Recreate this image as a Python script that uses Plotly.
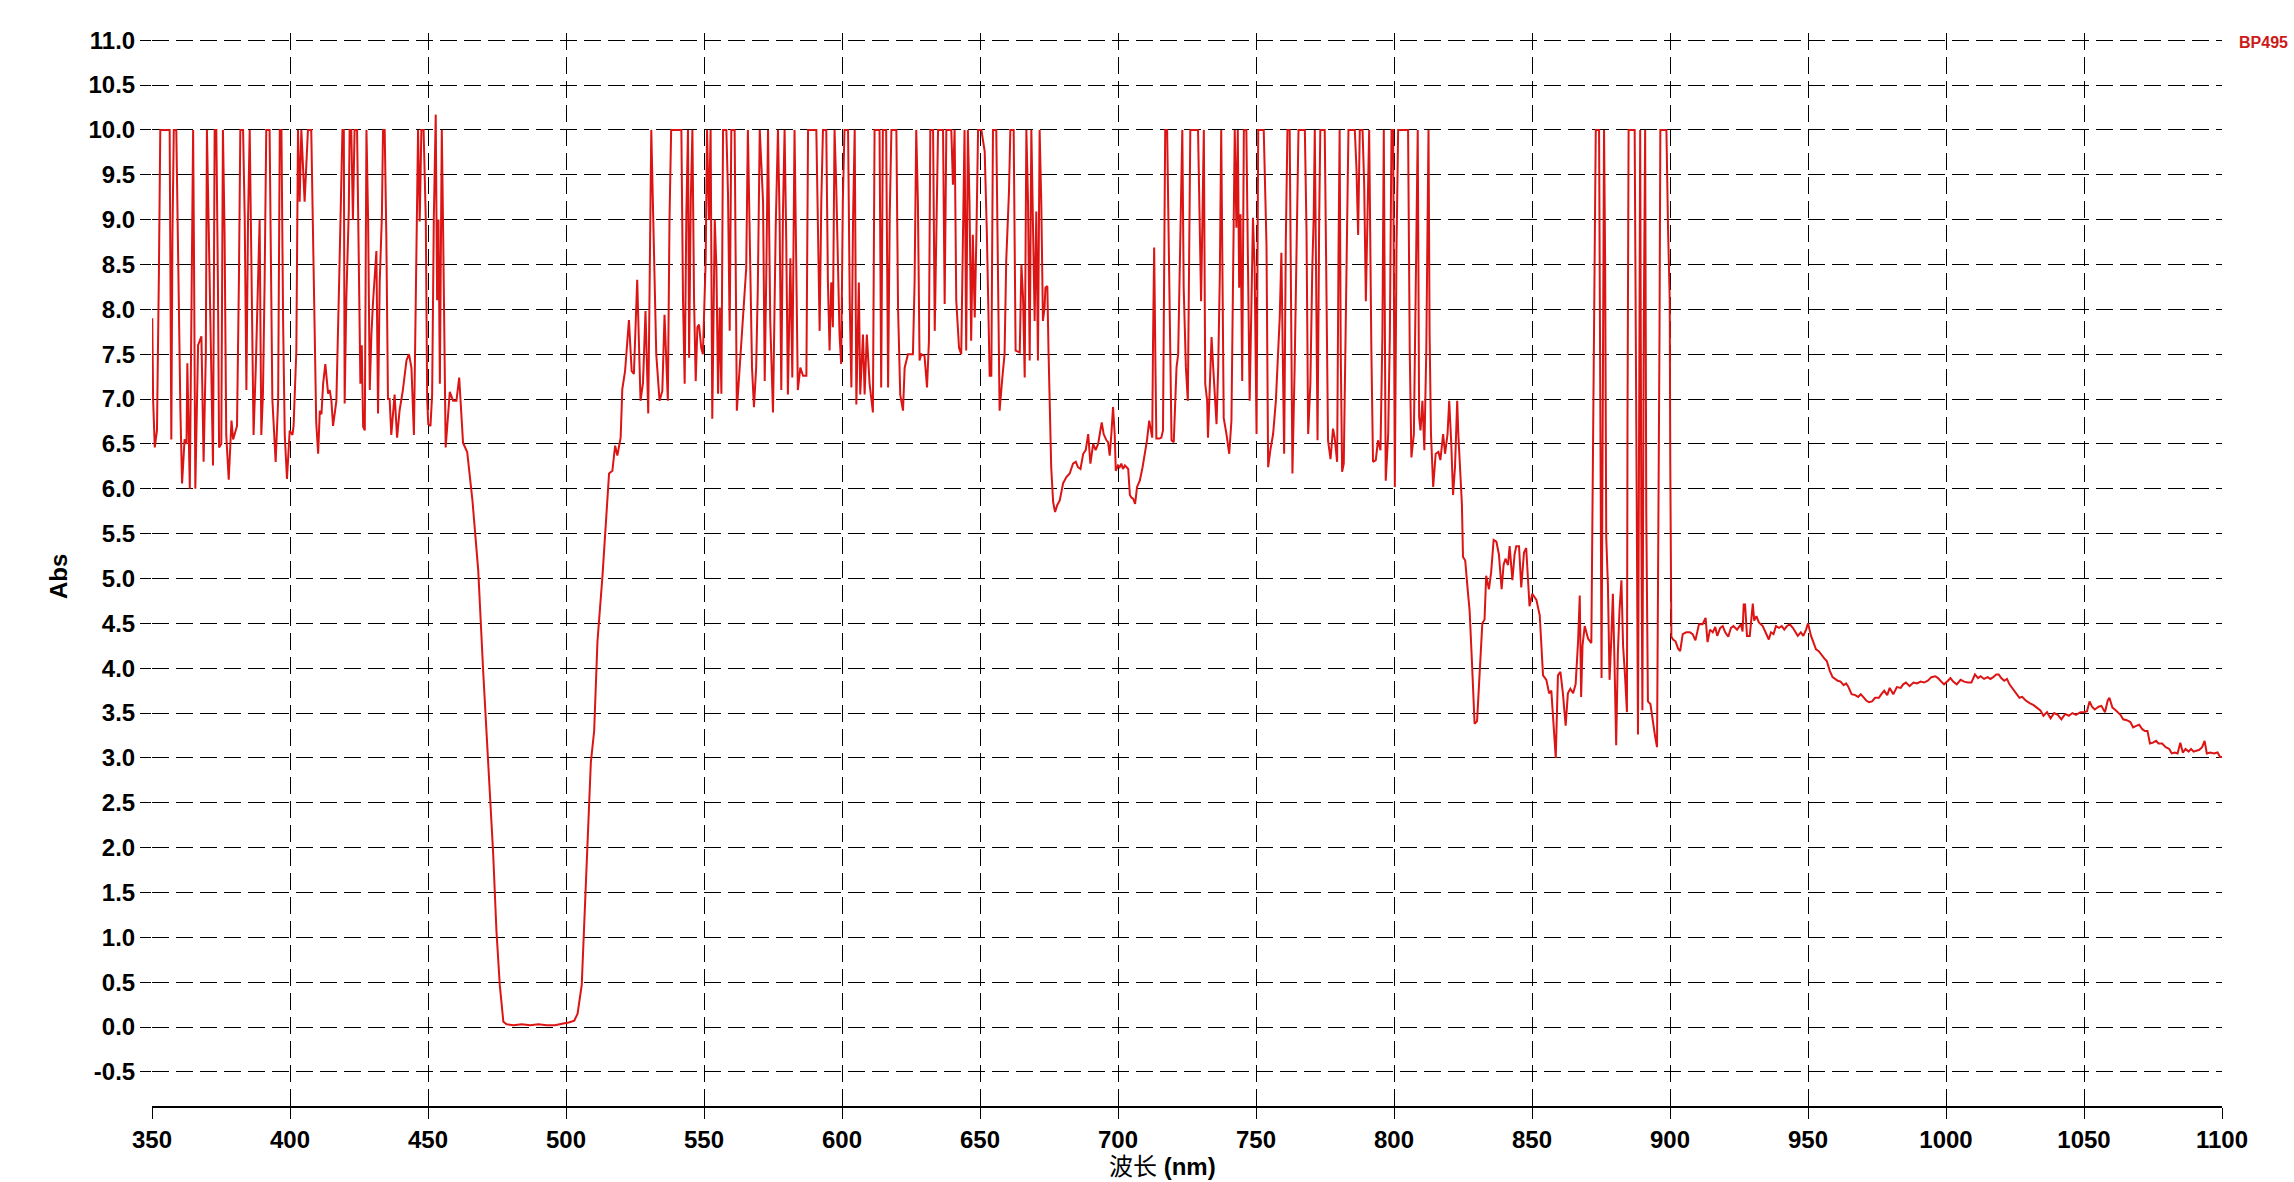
import plotly.graph_objects as go

# ---- data (wavelength nm, absorbance) ----
wl_a = [350.1, 350.4, 351.0, 351.8, 352.5, 353.0, 356.4, 356.8, 357.0, 357.4,
        357.9, 358.8, 359.8, 360.3, 360.9, 361.8, 362.5, 362.8, 363.7, 364.3,
        364.9, 365.2, 365.7, 366.7, 367.9, 368.7, 369.5, 369.9, 370.7, 371.5,
        372.1, 372.7, 373.3, 373.9, 374.3, 375.1, 375.7, 376.3, 376.9, 377.8,
        378.8, 379.4, 380.8, 381.5, 382.0, 383.0, 383.6, 384.2, 384.8, 385.4,
        386.0, 386.8, 387.6, 388.4, 389.0, 389.6, 390.2, 390.8, 391.4, 392.6,
        393.6, 394.8, 395.7, 396.3, 396.9, 397.5, 398.1, 398.9, 399.9, 400.9,
        401.3, 402.3, 402.9, 403.5, 404.1, 405.3, 406.5, 407.7, 408.3, 408.9,
        409.5, 410.2, 410.8, 411.4, 412.0, 412.8, 413.8, 414.4, 415.0, 415.6,
        416.2, 416.8, 417.8, 418.3, 419.0, 419.5, 419.8, 420.4, 421.3, 421.6,
        422.2, 422.8, 423.4, 424.3, 424.9, 425.5, 426.0, 426.5, 427.1, 427.7,
        428.3, 428.9, 429.5, 430.1, 431.3, 431.9, 432.5, 433.3, 433.7, 434.3,
        434.9, 435.5, 436.1, 436.7, 437.9, 438.8, 439.7, 440.9, 442.2, 443.1,
        444.0, 444.9, 445.4, 445.8, 446.4, 447.0, 447.6, 448.4, 449.2, 449.7,
        450.1, 450.9, 451.5, 452.1, 452.8, 453.3, 453.8, 454.3, 455.0, 455.5,
        456.0, 456.4]
abs_a = [7.9, 7.0, 6.46, 6.65, 8.4, 10, 10, 8.3, 6.55, 8.8,
         10, 10, 7.8, 6.85, 6.06, 6.55, 6.5, 7.4, 6.0, 7.94,
         10, 8.67, 6.0, 7.6, 7.7, 6.3, 7.5, 10, 8.75, 7.5,
         6.26, 10, 10, 8.24, 6.46, 6.5, 10, 8.83, 6.6, 6.1,
         6.76, 6.55, 6.7, 8.35, 10, 10, 9.0, 7.1, 9.0, 10,
         8.3, 6.6, 7.35, 8.24, 9.0, 6.6, 7.06, 8.3, 10, 10,
         7.0, 6.3, 6.98, 10, 10, 7.87, 6.6, 6.11, 6.65, 6.6,
         6.7, 7.54, 10, 9.2, 10, 9.2, 10, 10, 8.95, 7.9,
         6.74, 6.39, 6.87, 6.83, 7.17, 7.39, 7.06, 7.1, 6.98, 6.7,
         6.83, 6.98, 8.3, 9.1, 10, 10, 6.95, 8.1, 9.1, 10,
         10, 9.0, 10, 10, 8.46, 7.17, 7.6, 6.69, 6.65, 10,
         9.0, 7.1, 7.72, 8.09, 8.65, 6.84, 8.3, 9.05, 10, 10,
         8.83, 7.0, 7.0, 6.6, 7.05, 6.57, 6.87, 7.1, 7.43, 7.5,
         7.35, 6.6, 7.72, 8.87, 10, 8.98, 10, 10, 9.0, 7.0,
         6.72, 6.7, 7.05, 9.0, 10.17, 8.1, 9.0, 7.17, 10, 8.83,
         7.35, 6.46]

wl_b = [457.9, 459.1, 460.3, 461.3, 462.7, 464.2, 466.1, 468.2, 470.0, 471.8,
        473.6, 474.8, 476.0, 477.3, 478.5, 481.0, 484.0, 487.0, 490.0, 493.0,
        496.0, 499.0, 501.0, 503.0, 504.2, 505.7, 507.2, 509.0, 510.2, 511.4,
        513.2, 514.4, 515.6, 516.8, 517.8, 518.6, 519.8, 520.4, 521.4, 522.8,
        523.8, 524.6, 525.8, 527.0, 527.9, 528.8, 529.8]
abs_b = [7.08, 6.98, 6.98, 7.24, 6.51, 6.41, 5.87, 5.09, 3.96, 2.95,
         1.94, 1.07, 0.47, 0.06, 0.03, 0.02, 0.03, 0.02, 0.03, 0.02,
         0.02, 0.04, 0.05, 0.07, 0.15, 0.47, 1.6, 2.95, 3.3, 4.3,
         5.02, 5.63, 6.17, 6.2, 6.48, 6.37, 6.57, 7.11, 7.31, 7.88,
         7.31, 7.28, 8.33, 6.98, 7.18, 7.98, 6.84]

wl_c = [530.9, 531.5, 532.0, 532.7, 533.9, 534.9, 535.7, 536.3, 536.9, 537.5,
        538.1, 541.8, 542.4, 543.0, 543.6, 544.2, 544.6, 545.2, 545.8, 546.4,
        547.0, 547.6, 548.2, 549.0, 549.6, 550.6, 551.1, 551.8, 552.4, 553.0,
        553.9, 554.5, 555.1, 555.7, 556.3, 556.9, 558.1, 558.7, 559.3, 559.9,
        561.1, 561.9, 562.9, 564.1, 565.3, 565.9, 566.5, 567.4, 568.1, 568.9,
        569.5, 570.2, 571.4, 572.0, 572.6, 573.2, 574.0, 575.0, 576.0, 576.8,
        577.4, 578.0, 578.6, 579.2, 579.8, 580.4, 581.3, 582.0, 582.8, 583.4,
        584.0, 584.9, 585.9, 587.1, 587.7, 590.7, 591.3, 591.9, 592.5, 593.1,
        594.3, 594.9, 595.5, 596.1, 596.7, 597.3, 597.9, 598.5, 599.1, 599.7,
        600.3, 600.9, 602.2, 602.8, 603.4, 604.0, 604.6, 605.2, 606.1, 606.6,
        607.6, 608.2, 609.0, 610.0, 611.2, 611.8, 613.6, 614.2, 614.8, 616.0,
        616.7, 617.3, 617.9, 619.7, 620.3, 621.1, 622.1, 622.7, 623.9, 625.1,
        625.7, 626.3, 626.9, 627.5, 628.1, 628.7, 629.9, 630.8, 631.5, 632.0,
        633.0, 633.6, 634.2, 634.8, 636.6, 637.2, 637.8, 639.6, 640.2, 640.8,
        641.4, 642.4, 643.2, 643.8, 644.4, 645.0, 645.6, 646.2, 646.8, 647.4,
        648.1, 648.7, 649.3, 650.5, 651.7, 652.5, 652.9, 653.5, 654.1, 654.7,
        655.9, 656.6, 657.1, 658.1, 658.9, 659.5, 660.5, 661.0, 662.2, 662.9,
        664.4, 665.0, 665.6, 666.2, 666.8, 667.4, 668.0, 668.6, 669.2, 669.8,
        670.4, 671.0, 671.6, 672.2, 672.8, 673.4, 673.7, 674.4, 674.8, 675.2,
        675.8, 676.5, 677.2, 678.0]
abs_c = [10, 9.2, 8.43, 7.5, 6.98, 7.09, 7.94, 7.5, 6.98, 9.0,
         10, 10, 8.1, 7.17, 9.06, 10, 7.46, 9.2, 10, 8.1,
         7.2, 7.8, 7.83, 7.57, 7.5, 8.54, 10, 9.0, 10, 6.78,
         9.0, 8.46, 7.06, 8.02, 7.06, 10, 10, 9.28, 7.76, 10,
         10, 6.87, 7.35, 7.9, 8.46, 10, 9.0, 7.35, 6.91, 7.35,
         8.24, 10, 9.2, 7.2, 8.46, 10, 7.87, 6.85, 8.94, 10,
         9.0, 7.1, 9.06, 10, 8.76, 7.05, 8.57, 7.24, 10, 8.61,
         7.1, 7.35, 7.26, 7.26, 10, 10, 8.9, 7.76, 9.2, 10,
         10, 8.3, 7.54, 8.3, 7.8, 10, 9.39, 8.46, 7.72, 7.39,
         9.2, 10, 10, 8.09, 7.13, 9.0, 10, 6.94, 8.3, 7.05,
         7.72, 7.05, 7.72, 7.17, 6.85, 10, 10, 7.13, 10, 10,
         7.13, 9.06, 10, 10, 8.02, 7.05, 6.87, 7.35, 7.5, 7.5,
         7.5, 8.3, 10, 9.2, 7.43, 7.5, 7.48, 7.13, 7.65, 10,
         10, 7.76, 9.2, 10, 10, 8.06, 10, 10, 9.39, 10,
         8.1, 7.57, 7.5, 8.83, 10, 7.54, 10, 9.2, 7.65, 8.83,
         7.91, 8.83, 10, 10, 9.76, 8.83, 8.09, 7.26, 7.26, 10,
         10, 8.46, 6.87, 7.24, 7.5, 8.54, 9.31, 10, 10, 7.54,
         7.52, 8.5, 8.13, 7.24, 10, 9.2, 7.43, 10, 9.13, 7.87,
         9.09, 7.43, 10, 9.2, 7.87, 8.02, 8.24, 8.26, 7.57, 6.91,
         6.24, 5.85, 5.74, 5.82]

wl_d = [678.9, 680.1, 681.3, 682.5, 683.7, 684.7, 685.5, 686.4, 687.4, 688.3,
        689.2, 690.0, 691.0, 691.9, 692.8, 693.4, 694.1, 694.8, 695.8, 696.4,
        697.0, 697.6, 698.2, 698.8, 699.2, 700.0, 700.6, 701.2, 701.8, 702.5,
        703.1, 703.7, 704.3, 704.9, 705.5, 706.2, 706.9, 707.9, 708.9, 709.7,
        710.5, 711.3, 711.9, 712.4, 712.7, 713.1, 713.6, 713.9, 715.1, 715.7,
        716.3, 716.7, 717.1, 717.8, 718.3, 718.8, 719.4, 720.2, 720.7, 721.2,
        721.8, 722.4, 723.0, 723.3, 723.8, 724.6, 725.3, 725.8, 726.2, 729.0,
        729.6, 730.1, 730.6, 731.1, 731.6, 732.3, 732.6, 733.2, 733.9, 734.5,
        735.1, 735.7, 736.3, 736.9, 737.4, 737.8, 738.3, 739.3, 740.3, 741.1,
        741.7, 742.3, 742.9, 743.4, 743.9, 744.4, 745.0, 745.6, 746.5, 747.1,
        747.7, 748.3, 748.9, 749.5, 750.2, 750.8, 752.8, 753.8, 754.4, 755.2,
        756.2, 757.2, 758.0, 758.6, 759.2, 759.8, 760.2, 760.8, 761.4, 762.2,
        762.8, 763.2, 764.0, 764.9, 765.4, 767.7, 768.3, 768.9, 769.7, 770.4,
        770.9, 771.3, 771.9, 772.3, 772.9, 773.3, 774.9, 775.5, 776.1, 777.0,
        777.9, 778.5, 779.4, 779.9, 780.3, 780.7, 781.2, 781.8, 782.5, 783.0,
        783.5, 785.8, 786.4, 787.0, 787.6, 788.6, 789.2, 789.8, 790.3, 791.0,
        791.8, 792.4, 793.4, 794.2, 795.1, 795.8, 796.3, 797.0, 797.9, 798.5,
        799.1, 799.7, 800.3, 800.9, 801.5, 805.1, 805.7, 806.3, 807.2, 807.9,
        808.6, 809.1, 809.6, 810.3, 811.0, 811.7, 812.5, 812.9, 813.4, 814.2,
        815.1, 816.1, 816.8, 817.8, 818.5, 819.4, 820.0, 820.7, 821.4, 822.1,
        822.9, 823.3, 823.8, 824.6]
abs_d = [5.87, 6.06, 6.13, 6.17, 6.28, 6.3, 6.24, 6.22, 6.39, 6.43,
         6.61, 6.28, 6.5, 6.43, 6.5, 6.61, 6.74, 6.61, 6.54, 6.52,
         6.37, 6.61, 6.91, 6.61, 6.2, 6.26, 6.24, 6.28, 6.22, 6.26,
         6.24, 6.22, 5.93, 5.9, 5.89, 5.83, 6.02, 6.09, 6.24, 6.39,
         6.54, 6.76, 6.65, 6.57, 7.65, 8.69, 7.28, 6.56, 6.56, 6.57,
         6.65, 8.31, 10, 10, 8.83, 7.43, 6.54, 6.52, 6.87, 7.35,
         7.5, 8.39, 9.2, 10, 8.24, 7.35, 6.98, 8.39, 10, 10,
         9.06, 8.09, 9.02, 10, 7.17, 6.98, 6.57, 7.13, 7.69, 7.35,
         6.98, 6.72, 7.35, 8.39, 10, 8.46, 6.79, 6.61, 6.39, 6.76,
         8.39, 10, 8.91, 10, 8.24, 9.06, 7.2, 10, 10, 8.09,
         6.98, 7.98, 9.02, 8.46, 6.61, 10, 10, 8.72, 6.24, 6.43,
         6.61, 6.98, 7.54, 7.91, 8.63, 7.54, 6.39, 8.76, 10, 10,
         8.09, 6.17, 7.35, 8.83, 10, 10, 8.87, 6.61, 7.17, 8.46,
         9.02, 10, 8.24, 6.54, 9.02, 10, 10, 8.28, 6.54, 6.33,
         6.67, 6.57, 6.3, 8.65, 10, 7.54, 6.19, 6.28, 7.72, 8.76,
         10, 10, 9.57, 8.83, 10, 10, 9.39, 8.09, 8.76, 10,
         7.54, 6.3, 6.32, 6.54, 6.43, 7.72, 10, 6.09, 6.61, 7.72,
         10, 10, 6.02, 8.65, 10, 10, 7.54, 6.35, 6.61, 8.09,
         10, 6.8, 6.65, 6.98, 6.43, 7.54, 10, 7.72, 6.61, 6.02,
         6.39, 6.41, 6.32, 6.61, 6.39, 6.61, 6.98, 6.54, 5.93, 6.24,
         6.98, 6.61, 6.24, 5.83]

wl_e = [825.0, 825.8, 826.8, 827.4, 828.2, 829.2, 830.1, 831.0, 832.0, 832.8,
        833.4, 834.4, 835.2, 836.1, 837.1, 838.0, 839.0, 839.7, 840.4, 841.3,
        841.9, 842.9, 843.7, 844.3, 845.3, 846.1, 847.1, 847.9, 848.5, 849.1,
        850.1, 851.6, 852.8, 854.0, 855.2, 856.2, 857.0, 857.8, 858.6, 859.4,
        860.3, 861.2, 862.2, 863.0, 863.9, 864.9, 865.8, 866.7, 867.3, 867.8,
        868.3, 869.1, 870.3, 871.5, 872.1, 872.6, 873.1, 874.3, 874.5, 874.9,
        875.2, 875.7, 876.1, 876.5, 876.9, 877.5, 878.1, 878.7, 879.3, 879.9,
        880.5, 881.1, 881.7, 882.4, 883.0, 883.7, 884.4, 884.6, 885.0, 887.2,
        887.5, 888.0, 888.4, 888.8, 889.2, 889.6, 890.0, 890.5, 891.0, 891.4,
        892.0, 892.9, 893.8, 894.6, 895.3, 895.8, 896.2, 896.5, 898.7, 899.3,
        899.9, 900.1, 900.5]
abs_e = [5.24, 5.2, 4.84, 4.64, 4.1, 3.38, 3.41, 3.96, 4.5, 4.54,
         5.03, 4.88, 5.07, 5.43, 5.41, 5.27, 4.88, 5.15, 5.22, 5.15,
         5.36, 4.98, 5.27, 5.36, 5.36, 4.9, 5.29, 5.34, 5.07, 4.69,
         4.83, 4.76, 4.59, 3.92, 3.87, 3.72, 3.75, 3.34, 3.0, 3.92,
         3.96, 3.72, 3.36, 3.72, 3.77, 3.72, 3.82, 4.3, 4.81, 3.68,
         4.25, 4.47, 4.33, 4.28, 6.18, 8.09, 10, 10, 7.97, 5.94,
         3.89, 6.95, 10, 8.5, 5.46, 4.93, 3.87, 4.3, 4.83, 4.06,
         3.14, 4.16, 4.64, 4.98, 4.25, 3.92, 3.51, 6.76, 10, 10,
         7.78, 5.51, 3.26, 6.67, 10, 5.7, 3.53, 7.85, 10, 5.75,
         3.63, 3.6, 3.38, 3.24, 3.12, 5.41, 7.73, 10, 10, 8.88,
         8.11, 6.28, 4.35]

wl_f = [901.1, 902.0, 902.9, 903.7, 904.6, 905.9, 907.2, 908.2, 909.2, 910.5,
        911.8, 912.9, 913.6, 914.5, 915.5, 916.4, 917.1, 918.2, 919.1, 920.0,
        921.1, 922.1, 923.0, 924.3, 925.7, 926.3, 926.7, 927.2, 927.9, 928.9,
        930.0, 930.5, 931.3, 932.2, 933.6, 934.9, 935.8, 936.6, 937.5, 938.4,
        939.5, 940.5, 941.4, 942.4, 943.4, 944.5, 945.4, 946.3, 947.4, 948.3,
        949.3, 950.0, 951.1, 952.0, 952.9, 953.9, 955.0, 955.9, 956.8, 957.9,
        958.9, 959.9, 960.8, 961.8, 962.9, 963.8, 964.5, 965.8, 967.1, 968.2,
        969.1, 970.0, 971.1, 972.1, 973.2, 974.3, 975.7, 976.6, 977.6, 978.7,
        979.6, 980.9, 982.2, 983.6, 984.5, 985.5, 986.8, 988.2, 989.5, 990.8,
        992.1, 993.4, 994.7, 996.1, 997.1, 998.0, 999.3, 1000.7, 1001.6, 1002.6,
        1003.9, 1005.3, 1006.6, 1007.9, 1009.2, 1010.5, 1011.6, 1012.5, 1013.8, 1015.1,
        1016.1, 1017.1, 1018.2, 1019.1, 1020.0, 1021.1, 1022.1, 1023.0, 1024.3, 1025.7,
        1026.6, 1027.6, 1028.9, 1030.3, 1031.6, 1032.9, 1034.2, 1035.3, 1036.6, 1037.9,
        1039.2, 1040.5, 1041.8, 1043.2, 1044.5, 1045.8, 1047.1, 1048.7, 1050.0, 1051.1,
        1052.0, 1052.9, 1053.9, 1055.3, 1056.3, 1057.6, 1058.6, 1059.2, 1060.3, 1061.2,
        1062.1, 1063.2, 1064.2, 1065.5, 1066.8, 1067.8, 1069.1, 1070.0, 1071.1, 1072.1,
        1073.0, 1073.9, 1075.0, 1076.1, 1077.0, 1078.3, 1079.6, 1080.9, 1081.8, 1082.9,
        1083.9, 1084.9, 1085.8, 1086.8, 1087.9, 1088.8, 1089.7, 1090.8, 1091.8, 1092.8,
        1093.7, 1094.5, 1095.8, 1097.1, 1098.4, 1099.3, 1100.0]
abs_f = [4.32, 4.30, 4.22, 4.19, 4.38, 4.40, 4.40, 4.38, 4.31, 4.49,
         4.49, 4.56, 4.29, 4.43, 4.40, 4.46, 4.36, 4.45, 4.47, 4.40,
         4.35, 4.45, 4.47, 4.43, 4.49, 4.41, 4.71, 4.71, 4.36, 4.36,
         4.72, 4.53, 4.58, 4.51, 4.47, 4.38, 4.32, 4.40, 4.38, 4.47,
         4.45, 4.47, 4.43, 4.47, 4.49, 4.45, 4.40, 4.36, 4.40, 4.36,
         4.43, 4.50, 4.36, 4.29, 4.21, 4.19, 4.14, 4.11, 4.08, 3.97,
         3.90, 3.88, 3.86, 3.85, 3.81, 3.83, 3.80, 3.71, 3.70, 3.68,
         3.71, 3.68, 3.64, 3.62, 3.63, 3.67, 3.67, 3.71, 3.75, 3.70,
         3.78, 3.71, 3.79, 3.78, 3.82, 3.84, 3.80, 3.84, 3.83, 3.85,
         3.84, 3.86, 3.90, 3.91, 3.89, 3.86, 3.82, 3.86, 3.89, 3.85,
         3.82, 3.87, 3.85, 3.84, 3.84, 3.93, 3.89, 3.91, 3.88, 3.90,
         3.88, 3.90, 3.93, 3.93, 3.89, 3.86, 3.88, 3.82, 3.77, 3.71,
         3.67, 3.68, 3.64, 3.61, 3.59, 3.56, 3.53, 3.47, 3.51, 3.44,
         3.50, 3.48, 3.43, 3.49, 3.47, 3.50, 3.48, 3.51, 3.51, 3.52,
         3.63, 3.57, 3.54, 3.57, 3.58, 3.51, 3.64, 3.67, 3.56, 3.54,
         3.51, 3.48, 3.43, 3.42, 3.40, 3.34, 3.36, 3.37, 3.32, 3.30,
         3.30, 3.16, 3.17, 3.19, 3.16, 3.16, 3.12, 3.10, 3.05, 3.06,
         3.05, 3.17, 3.06, 3.10, 3.07, 3.10, 3.07, 3.08, 3.09, 3.12,
         3.19, 3.05, 3.06, 3.05, 3.06, 3.01, 3.01]

x_ticks = [350, 400, 450, 500, 550, 600, 650, 700, 750, 800, 850, 900, 950, 1000, 1050, 1100]
y_ticks = [-0.5, 0.0, 0.5, 1.0, 1.5, 2.0, 2.5, 3.0, 3.5, 4.0, 4.5, 5.0, 5.5,
           6.0, 6.5, 7.0, 7.5, 8.0, 8.5, 9.0, 9.5, 10.0, 10.5, 11.0]
y_tick_text = ["%.1f" % v for v in y_ticks]

series_name = "BP495"
x_title = "波长 <b>(nm)</b>"
y_title = "<b>Abs</b>"

segments = [(wl_a, abs_a), (wl_b, abs_b), (wl_c, abs_c),
            (wl_d, abs_d), (wl_e, abs_e), (wl_f, abs_f)]
wl, ab = [], []
for w, a in segments:
    assert len(w) == len(a), (len(w), len(a))
    wl += w
    ab += a

RED = "#dc1414"
FONT = "Liberation Sans, Arial, sans-serif"

fig = go.Figure()
fig.add_trace(go.Scatter(x=wl, y=ab, mode="lines", name=series_name,
                         line=dict(color=RED, width=2), showlegend=False))

W, H = 2294, 1182
L, R, T, B = 152, 72, 33, 76

fig.update_layout(
    width=W, height=H,
    margin=dict(l=L, r=R, t=T, b=B, pad=0),
    paper_bgcolor="white", plot_bgcolor="white",
    font=dict(family=FONT, color="black"),
    xaxis=dict(range=[350, 1100], tickvals=x_ticks,
               showgrid=True, gridcolor="black", gridwidth=1, griddash="17px,7px",
               showline=True, linecolor="black", linewidth=1.5,
               ticks="outside", ticklen=11, tickcolor="black", tickwidth=1,
               tickfont=dict(family=FONT, size=24, weight="bold", color="black"),
               zeroline=False, automargin=False),
    yaxis=dict(range=[-0.88, 11.08], tickvals=y_ticks, ticktext=y_tick_text,
               showgrid=True, gridcolor="black", gridwidth=1, griddash="17px,7px",
               showline=False,
               ticks="outside", ticklen=11, tickcolor="black", tickwidth=1,
               tickfont=dict(family=FONT, size=24, weight="bold", color="black"),
               zeroline=False, automargin=False),
    annotations=[
        dict(text=x_title, xref="paper", yref="paper", x=0.4884, y=-0.056,
             xanchor="center", yanchor="middle", showarrow=False,
             font=dict(family="Liberation Sans, Noto Sans CJK SC", size=24, color="black")),
        dict(text=y_title, xref="paper", yref="paper", x=-0.0454, y=0.493,
             xanchor="center", yanchor="middle", showarrow=False, textangle=-90,
             font=dict(family=FONT, size=24, color="black")),
        dict(text="<b>%s</b>" % series_name, xref="paper", yref="paper", x=1.0072, y=0.991,
             xanchor="left", yanchor="middle", showarrow=False,
             font=dict(family=FONT, size=16, color="#cc1a1a")),
    ],
)

fig.write_html(
    "out.html",
    config={"displayModeBar": False},
    post_script="document.body.style.margin='0';document.body.style.overflow='hidden';",
)
